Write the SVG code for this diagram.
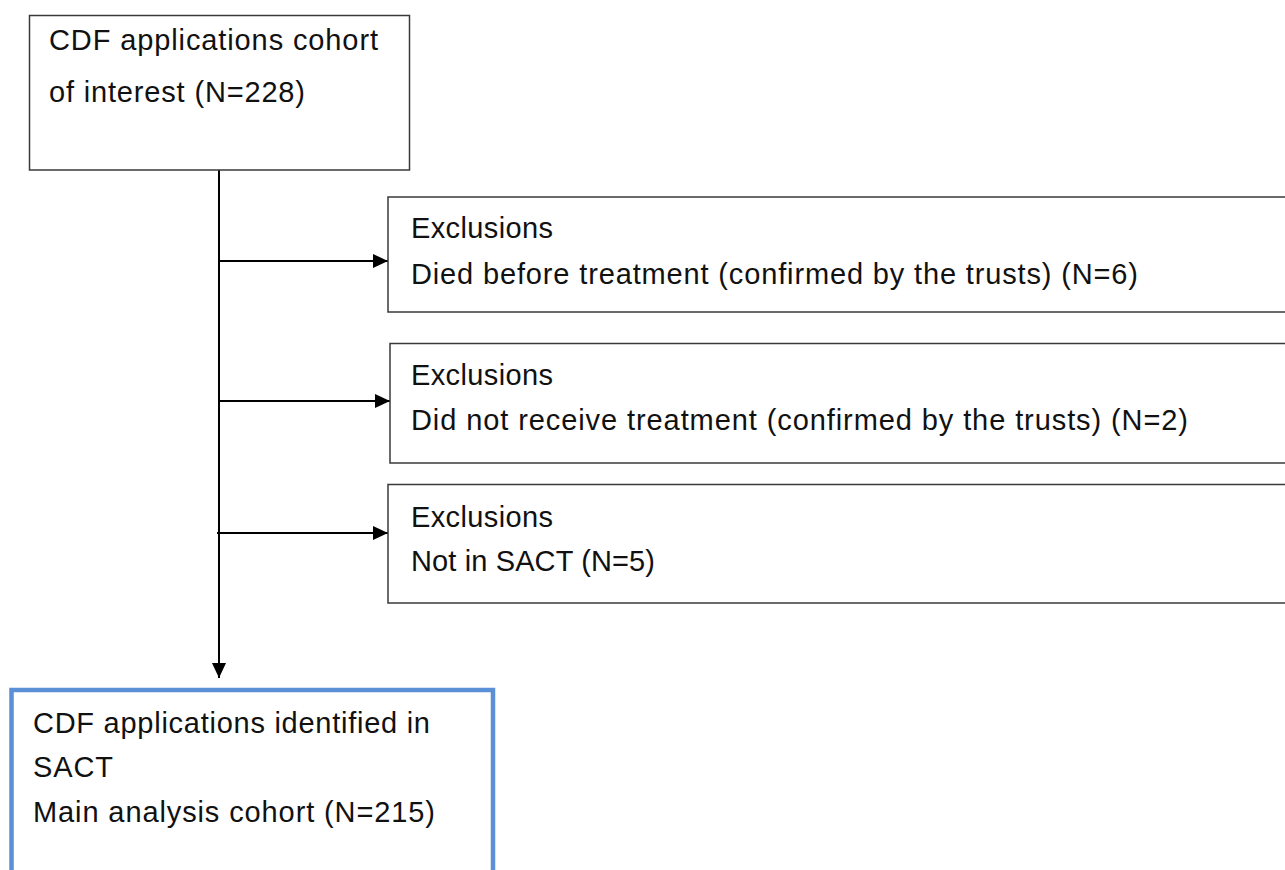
<svg xmlns="http://www.w3.org/2000/svg" width="1285" height="870" viewBox="0 0 1285 870">
<defs>
<style>
.box{fill:#fff;stroke:#3a3a3a;stroke-width:1.5}
.blue{fill:#fff;stroke:#5b8fd6;stroke-width:4.5}
.t{font-family:"Liberation Sans",Arial,sans-serif;font-size:29px;fill:#111}
.c{stroke:#000;stroke-width:2;fill:none}
</style>
<marker id="ah" viewBox="0 0 15 14" refX="15" refY="7" markerWidth="15" markerHeight="14" markerUnits="userSpaceOnUse" orient="auto">
<path d="M0,0 L15,7 L0,14 Z" fill="#000"/>
</marker>
</defs>
<rect width="1285" height="870" fill="#fff"/>
<g id="connectors">
<line class="c" x1="219" y1="170" x2="219" y2="678" marker-end="url(#ah)"/>
<line class="c" x1="219" y1="261" x2="388" y2="261" marker-end="url(#ah)"/>
<line class="c" x1="219" y1="401" x2="390" y2="401" marker-end="url(#ah)"/>
<line class="c" x1="217" y1="533" x2="388" y2="533" marker-end="url(#ah)"/>
</g>
<g id="cohort">
<rect class="box" x="29.5" y="15.5" width="380" height="154.5"/>
<text class="t" x="49" y="50" textLength="329">CDF applications cohort</text>
<text class="t" x="49" y="101.5" textLength="256">of interest (N=228)</text>
</g>
<g id="excl1">
<rect class="box" x="388" y="197" width="910" height="115"/>
<text class="t" x="411" y="238" textLength="142">Exclusions</text>
<text class="t" x="411" y="284" textLength="727">Died before treatment (confirmed by the trusts) (N=6)</text>
</g>
<g id="excl2">
<rect class="box" x="390" y="343.5" width="910" height="119.5"/>
<text class="t" x="411" y="385" textLength="142">Exclusions</text>
<text class="t" x="411" y="430" textLength="777">Did not receive treatment (confirmed by the trusts) (N=2)</text>
</g>
<g id="excl3">
<rect class="box" x="388" y="484.5" width="910" height="118.5"/>
<text class="t" x="411" y="527" textLength="142">Exclusions</text>
<text class="t" x="411" y="571" textLength="244">Not in SACT (N=5)</text>
</g>
<g id="main">
<rect class="blue" x="11.5" y="690" width="481.5" height="200"/>
<text class="t" x="33" y="733" textLength="397">CDF applications identified in</text>
<text class="t" x="33" y="777" textLength="80">SACT</text>
<text class="t" x="33" y="822" textLength="402">Main analysis cohort (N=215)</text>
</g>
</svg>
